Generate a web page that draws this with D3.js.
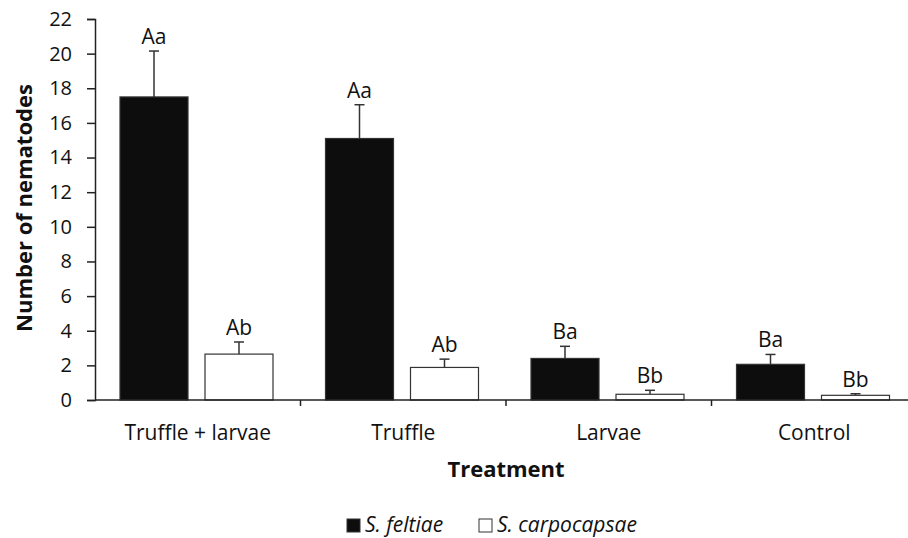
<!DOCTYPE html>
<html>
<head>
<meta charset="utf-8">
<script src="https://cdn.jsdelivr.net/npm/d3@7"></script>
<style>
  body { margin: 0; background: #fff; }
  text { font-family: "Open Sans", sans-serif; fill: #111; }
</style>
</head>
<body>
<div id="chart"></div>
<script>
const categories = ["Truffle + larvae", "Truffle", "Larvae", "Control"];
const seriesNames = ["S. feltiae", "S. carpocapsae"];
const feltiaeMeans = [17.5, 15.1, 2.4, 2.06];
const feltiaeErrors = [2.65, 1.95, 0.7, 0.57];
const carpoMeans = [2.65, 1.88, 0.33, 0.27];
const carpoErrors = [0.7, 0.48, 0.23, 0.09];
const feltiaeLetters = ["Aa", "Aa", "Ba", "Ba"];
const carpoLetters = ["Ab", "Ab", "Bb", "Bb"];
const yTicks = [0, 2, 4, 6, 8, 10, 12, 14, 16, 18, 20, 22];

const W = 908, H = 538;
const svg = d3.select("#chart").append("svg")
    .attr("width", W).attr("height", H);

const x = d3.scaleBand().domain(categories).range([95, 917]).padding(0);
const inner = d3.scaleBand().domain(seriesNames)
    .range([25, x.bandwidth() - 27.5]).paddingInner(0.2);
const y = d3.scaleLinear().domain([0, 22]).range([400, 19]);

const data = categories.map((c, i) => [
  {cat: c, s: seriesNames[0], v: feltiaeMeans[i], e: feltiaeErrors[i], l: feltiaeLetters[i], fill: "#0d0d0d"},
  {cat: c, s: seriesNames[1], v: carpoMeans[i], e: carpoErrors[i], l: carpoLetters[i], fill: "#ffffff"}
]).flat();

// error bars
const eb = svg.append("g").attr("stroke", "#333").attr("stroke-width", 1.5);
data.forEach(d => {
  const cx = x(d.cat) + inner(d.s) + inner.bandwidth() / 2;
  eb.append("line").attr("x1", cx).attr("x2", cx)
    .attr("y1", y(d.v)).attr("y2", y(d.v + d.e));
  eb.append("line").attr("x1", cx - 5).attr("x2", cx + 5)
    .attr("y1", y(d.v + d.e)).attr("y2", y(d.v + d.e));
});

// bars
svg.append("g").selectAll("rect").data(data).enter().append("rect")
    .attr("x", d => x(d.cat) + inner(d.s))
    .attr("width", inner.bandwidth())
    .attr("y", d => y(d.v))
    .attr("height", d => y(0) - y(d.v))
    .attr("fill", d => d.fill)
    .attr("stroke", "#333")
    .attr("stroke-width", 1.2);

// letters
svg.append("g").selectAll("text").data(data).enter().append("text")
    .attr("x", d => x(d.cat) + inner(d.s) + inner.bandwidth() / 2)
    .attr("y", d => y(d.v + d.e) - 7)
    .attr("text-anchor", "middle")
    .attr("font-size", 21)
    .text(d => d.l);

// y axis
const yAxis = svg.append("g").attr("transform", "translate(95,0)")
    .call(d3.axisLeft(y).tickValues(yTicks).tickSizeOuter(0).tickSize(8).tickPadding(15));
yAxis.selectAll("text").attr("font-size", 20).style("font-family", "'Open Sans', sans-serif").attr("fill", "#111");
yAxis.selectAll("line, path").attr("stroke", "#222").attr("stroke-width", 1.5);

// x axis
const xAxisG = svg.append("g").attr("transform", "translate(0,400)");
xAxisG.append("line").attr("x1", 95).attr("x2", 917).attr("y1", 0).attr("y2", 0)
    .attr("stroke", "#222").attr("stroke-width", 1.5);
xAxisG.selectAll(".tk").data(categories.slice(1)).enter().append("line")
    .attr("x1", d => x(d)).attr("x2", d => x(d)).attr("y1", 0).attr("y2", 6)
    .attr("stroke", "#222").attr("stroke-width", 1.5);
xAxisG.selectAll(".lbl").data(categories).enter().append("text")
    .attr("x", d => x(d) + x.bandwidth() / 2)
    .attr("y", 40)
    .attr("text-anchor", "middle")
    .attr("font-size", 21)
    .text(d => d);

// axis titles
svg.append("text")
    .attr("x", 506).attr("y", 477)
    .attr("text-anchor", "middle")
    .attr("font-size", 22).attr("font-weight", "bold")
    .text("Treatment");
svg.append("text")
    .attr("transform", "translate(32,208) rotate(-90)")
    .attr("text-anchor", "middle")
    .attr("font-size", 22).attr("font-weight", "bold")
    .text("Number of nematodes");

// legend
const legX = [347, 479];
const leg = svg.append("g").selectAll("g").data(seriesNames).enter().append("g")
    .attr("transform", (d, i) => `translate(${legX[i]},519)`);
leg.append("rect").attr("width", 13).attr("height", 13)
    .attr("fill", (d, i) => i === 0 ? "#0d0d0d" : "#fff")
    .attr("stroke", "#333").attr("stroke-width", 1);
leg.append("text").attr("x", 18).attr("y", 13)
    .attr("font-size", 21).attr("font-style", "italic")
    .text(d => d);
</script>
</body>
</html>
